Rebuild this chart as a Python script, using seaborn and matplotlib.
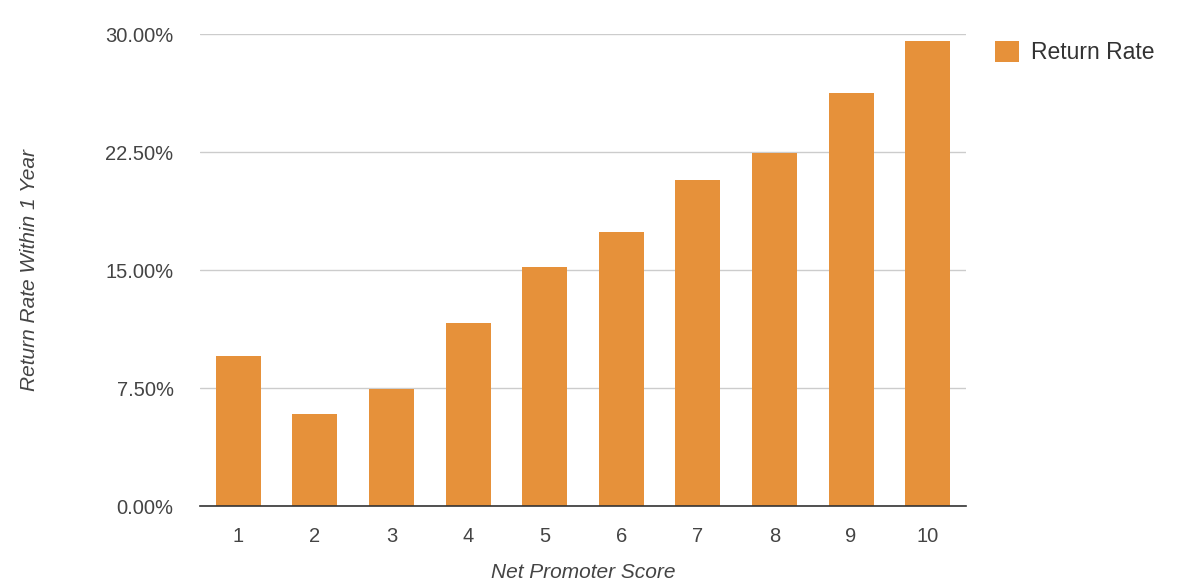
import matplotlib
matplotlib.use("Agg")
import matplotlib.pyplot as plt
import seaborn as sns
import pandas as pd
from matplotlib.ticker import FuncFormatter, FixedLocator
from matplotlib.patches import Patch

scores = ["1", "2", "3", "4", "5", "6", "7", "8", "9", "10"]
return_rate = [9.53, 5.85, 7.44, 11.63, 15.19, 17.42, 20.72, 22.44, 26.25, 29.56]
y_ticks = [0.0, 7.5, 15.0, 22.5, 30.0]
series_name = "Return Rate"

sns.set_theme(style="white")
plt.rcParams['font.family'] = ['Liberation Sans', 'DejaVu Sans']

df = pd.DataFrame({"score": scores, "rate": return_rate})

fig = plt.figure(figsize=(11.84, 5.85), dpi=100)
ax = fig.add_axes([200/1184, 79/585, 766/1184, 472/585])
color = "#E6913A"
sns.barplot(data=df, x="score", y="rate", color=color, width=0.59, ax=ax,
            saturation=1, edgecolor="none", zorder=3)

ax.set_ylim(0, 30)
ax.set_xlim(-0.5, 9.5)
ax.yaxis.set_major_locator(FixedLocator(y_ticks))
ax.yaxis.set_major_formatter(FuncFormatter(lambda v, p: f"{v:.2f}%"))
ax.grid(axis="y", color="#cccccc", linewidth=1, zorder=0)
ax.grid(axis="x", visible=False)
for s in ["top", "right", "left"]:
    ax.spines[s].set_visible(False)
ax.spines["bottom"].set_color("#333333")
ax.spines["bottom"].set_linewidth(1.2)
ax.spines["bottom"].set_zorder(4)
ax.tick_params(axis="both", length=0, labelsize=14.5, labelcolor="#444444")
ax.tick_params(axis="y", pad=19)
ax.tick_params(axis="x", pad=15)

ax.set_xlabel("Net Promoter Score", fontsize=15, style="italic", color="#444444", labelpad=12)
ax.set_ylabel("Return Rate Within 1 Year", fontsize=15, style="italic", color="#444444", labelpad=48)

handles = [Patch(facecolor=color, edgecolor="none", label=series_name)]
fig.legend(handles=handles, loc="upper left", bbox_to_anchor=(974/1184, 1 - 20/585),
           frameon=False, fontsize=16.5, handlelength=1.05, handleheight=1.05,
           handletextpad=0.55, labelcolor="#333333")

fig.savefig("out.png", dpi=100, facecolor="white")
